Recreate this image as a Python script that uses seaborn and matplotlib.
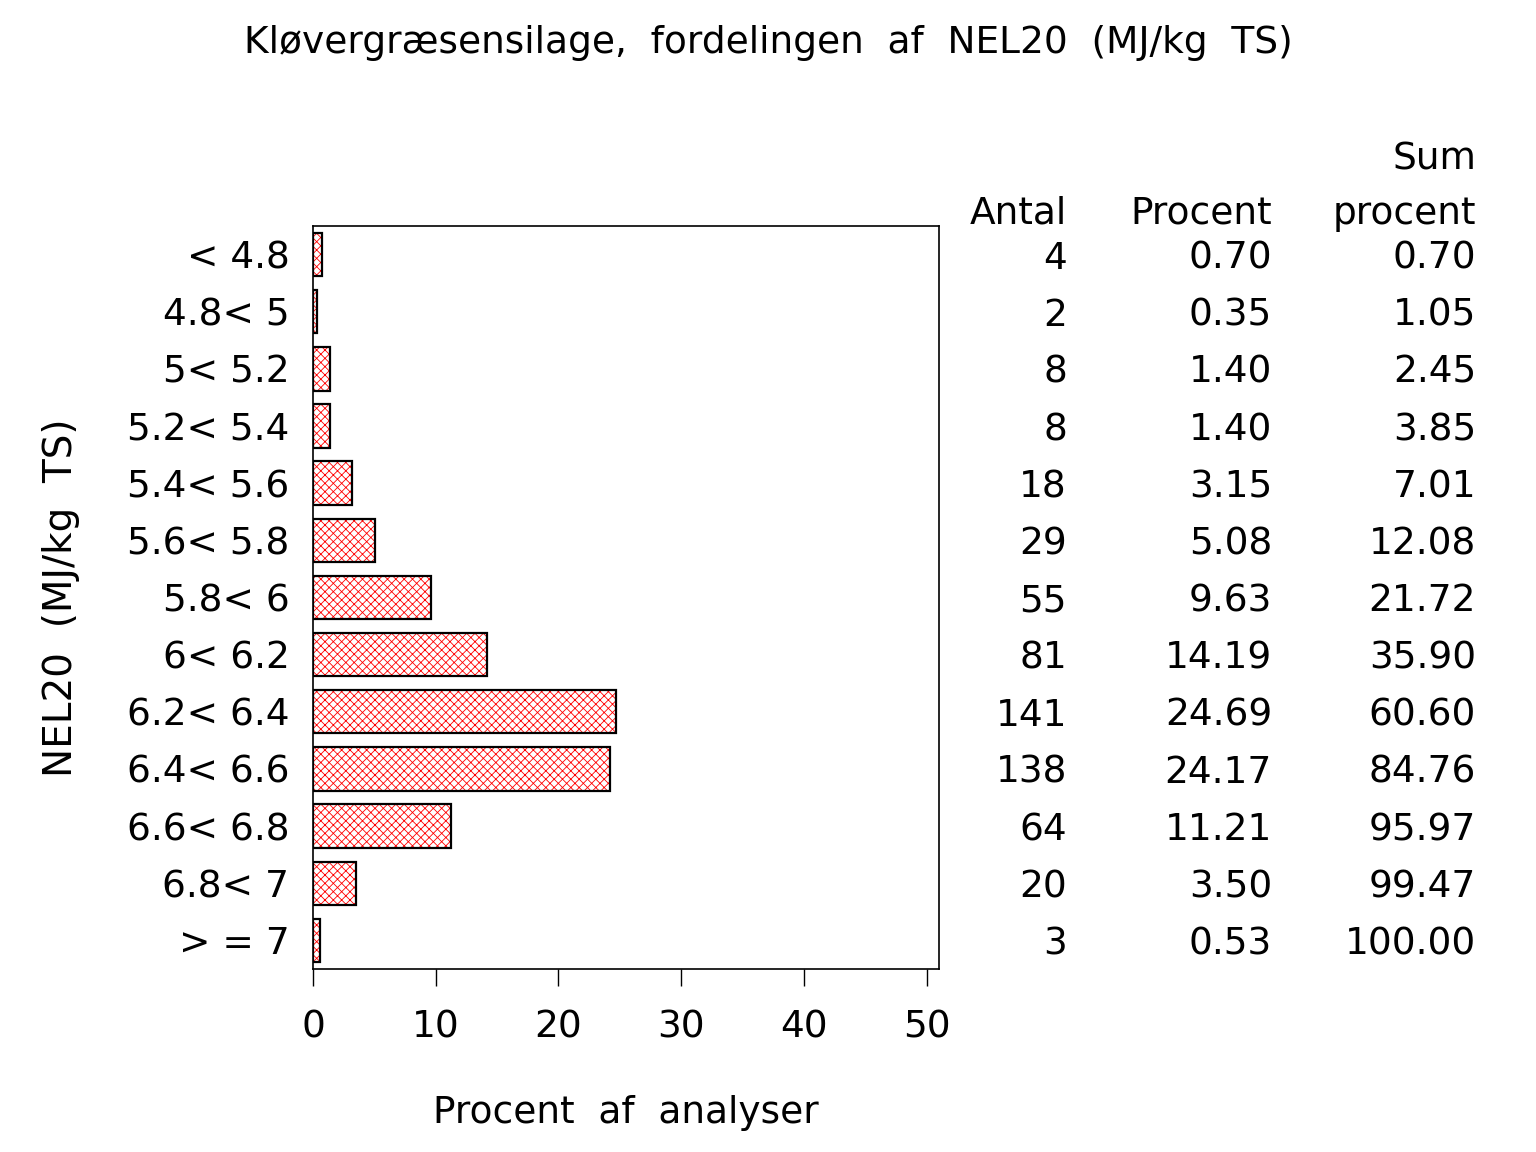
import matplotlib
matplotlib.use("Agg")
import matplotlib.pyplot as plt
import matplotlib.transforms as mtransforms
import pandas as pd
import seaborn as sns

# data
labels = ['< 4.8', '4.8< 5', '5< 5.2', '5.2< 5.4', '5.4< 5.6', '5.6< 5.8', '5.8< 6',
          '6< 6.2', '6.2< 6.4', '6.4< 6.6', '6.6< 6.8', '6.8< 7', '> = 7']
antal = [4, 2, 8, 8, 18, 29, 55, 81, 141, 138, 64, 20, 3]
procent = [0.70, 0.35, 1.40, 1.40, 3.15, 5.08, 9.63, 14.19, 24.69, 24.17, 11.21, 3.50, 0.53]
sum_procent = [0.70, 1.05, 2.45, 3.85, 7.01, 12.08, 21.72, 35.90, 60.60, 84.76, 95.97, 99.47, 100.00]
xticks = [0, 10, 20, 30, 40, 50]

df = pd.DataFrame({'klasse': labels, 'procent': procent})

sns.set_style("white")
plt.rcParams['font.family'] = ['DejaVu Sans']
plt.rcParams['text.color'] = 'black'
plt.rcParams['axes.labelcolor'] = 'black'
plt.rcParams['hatch.linewidth'] = 0.6
plt.rcParams['hatch.color'] = 'red'

fs = 27

fig = plt.figure(figsize=(15.36, 11.52), dpi=100)
ax = fig.add_axes([0.2038, 0.1589, 0.4075, 0.6449])

# hatched fill
sns.barplot(data=df, x='procent', y='klasse', orient='h', color='white',
            edgecolor='red', linewidth=0, hatch='xxxx', width=0.76, ax=ax)
# black outline on top
sns.barplot(data=df, x='procent', y='klasse', orient='h', fill=False,
            edgecolor='black', linewidth=1.6, width=0.76, ax=ax)

ax.set_xlim(0, 51)
ax.set_ylim(len(labels) - 0.5, -0.5)
ax.set_xticks(xticks)
for s in ax.spines.values():
    s.set_color('black')
    s.set_linewidth(1.2)
ax.tick_params(axis='x', length=12, width=1, direction='out', pad=17,
               labelsize=fs, colors='black', bottom=True)
ax.tick_params(axis='y', length=0, pad=17, labelsize=fs, colors='black')

ax.set_xlabel('Procent  af  analyser', fontsize=fs, labelpad=36)
ax.set_ylabel('NEL20  (MJ/kg  TS)', fontsize=28, labelpad=34)

fig.suptitle('Kløvergræsensilage,  fordelingen  af  NEL20  (MJ/kg  TS)',
             fontsize=27, x=0.5, y=0.978)

# table to the right of the plot
trans = mtransforms.blended_transform_factory(fig.transFigure, ax.transData)
cols = [(1067 / 1536, antal, '{:d}'), (1272 / 1536, procent, '{:.2f}'),
        (1476 / 1536, sum_procent, '{:.2f}')]
for xpos, vals, fmt in cols:
    for i, v in enumerate(vals):
        ax.text(xpos, i, fmt.format(v), transform=trans, ha='right',
                va='center_baseline', fontsize=fs, clip_on=False)

hdr_y = 1 - 214 / 1152
hdr_y2 = 1 - 159 / 1152
fig.text(1067 / 1536, hdr_y, 'Antal', ha='right', va='center', fontsize=fs)
fig.text(1272 / 1536, hdr_y, 'Procent', ha='right', va='center', fontsize=fs)
fig.text(1476 / 1536, hdr_y, 'procent', ha='right', va='center', fontsize=fs)
fig.text(1476 / 1536, hdr_y2, 'Sum', ha='right', va='center', fontsize=fs)

fig.savefig('out.png', dpi=100)
